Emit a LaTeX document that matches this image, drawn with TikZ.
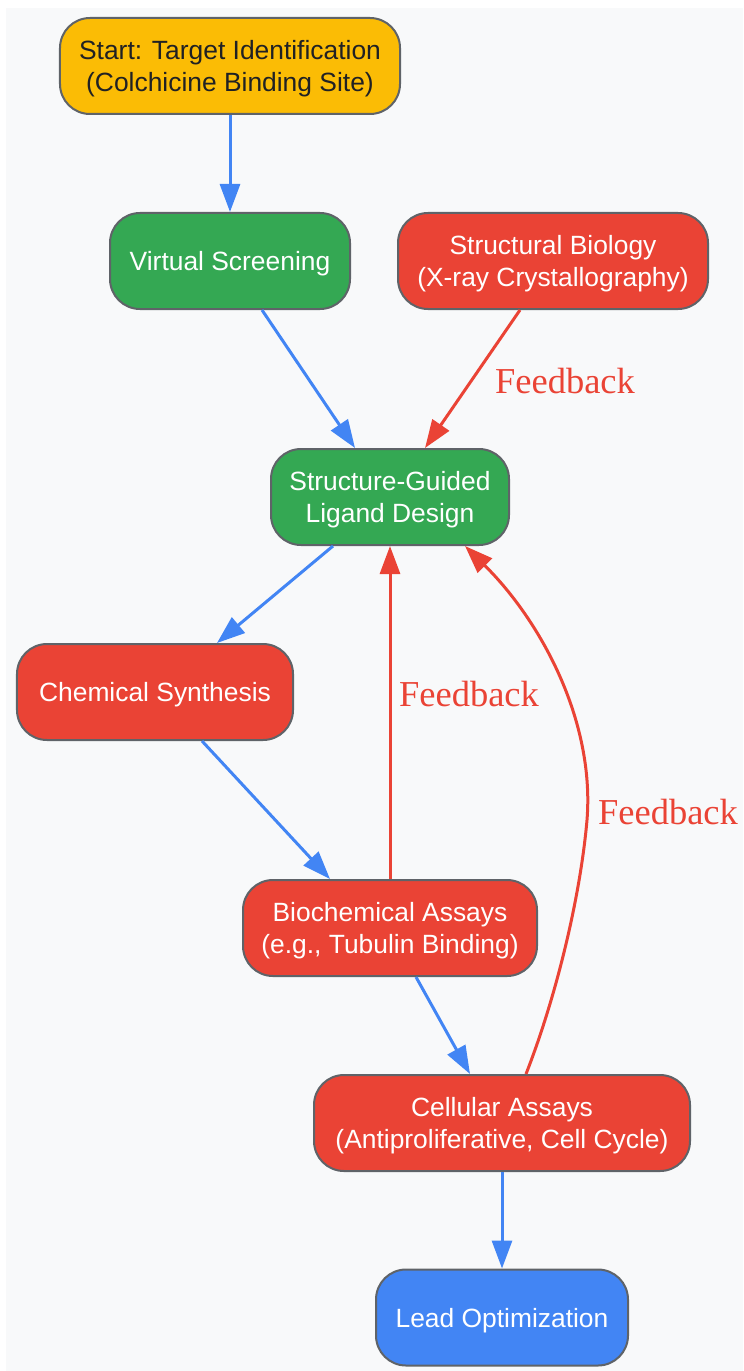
\documentclass[tikz,border=0pt]{standalone}
\usepackage{fontspec}
\setmainfont{Liberation Sans}
\newfontfamily\labelserif{Liberation Serif}
\usetikzlibrary{arrows.meta}
\definecolor{gyellow}{HTML}{FBBC05}
\definecolor{ggreen}{HTML}{34A853}
\definecolor{gred}{HTML}{EA4335}
\definecolor{gblue}{HTML}{4285F4}
\definecolor{gborder}{HTML}{5F6368}
\definecolor{gtext}{HTML}{202124}
\definecolor{gbg}{HTML}{F8F9FA}
\tikzset{
  box/.style={draw=gborder, line width=2bp, rounded corners=30bp, align=center,
    inner sep=0pt, minimum height=96bp, text=white, text depth=0pt,
    font=\fontsize{26.4bp}{32bp}\selectfont},
  flow/.style={draw=gblue, line width=3bp, -{Triangle[length=28bp,width=20bp]}},
  fback/.style={draw=gred, line width=3bp, -{Triangle[length=28bp,width=20bp]}},
  fblabel/.style={text=gred, inner sep=0pt, font=\labelserif\fontsize{36.5bp}{40bp}\selectfont}
}
\begin{document}
\begin{tikzpicture}[x=1bp,y=-1bp]
\useasboundingbox (0,0) rectangle (743,1371);
\fill[gbg] (6,8) rectangle (743,1371);

\node[box, fill=gyellow, text=gtext, minimum width=340bp, minimum height=96bp] (start) at (230,66)
  {Start: Target Identification\\(Colchicine Binding Site)};
\node[box, fill=ggreen, minimum width=240bp] (vs) at (230,261) {Virtual Screening};
\node[box, fill=gred, minimum width=310bp] (sb) at (553,261) {Structural Biology\\(X-ray Crystallography)};
\node[box, fill=ggreen, minimum width=238bp] (sgld) at (390,497) {Structure-Guided\\Ligand Design};
\node[box, fill=gred, minimum width=276bp] (chem) at (155,692) {Chemical Synthesis};
\node[box, fill=gred, minimum width=294bp] (bio) at (390,928) {Biochemical Assays\\(e.g., Tubulin Binding)};
\node[box, fill=gred, minimum width=376bp] (cell) at (502,1123) {Cellular Assays\\(Antiproliferative, Cell Cycle)};
\node[box, fill=gblue, minimum width=252bp] (lead) at (502,1317.5) {Lead Optimization};

\node[fblabel] (fb1) at (565,381) {Feedback};
\node[fblabel] (fb2) at (469,694) {Feedback};
\node[fblabel] (fb3) at (668,812) {Feedback};

\draw[flow] (start.south) -- (vs.north);
\draw[flow] ([xshift=32bp]vs.south) -- ([xshift=-35bp]sgld.north);
\draw[fback] ([xshift=-33bp]sb.south) -- ([xshift=35bp]sgld.north);
\draw[flow] ([xshift=-57bp]sgld.south) -- ([xshift=62bp]chem.north);
\draw[flow] ([xshift=47bp]chem.south) -- ([xshift=-60bp]bio.north);
\draw[fback] (bio.north) -- (sgld.south);
\draw[flow] ([xshift=26bp]bio.south) -- ([xshift=-32bp]cell.north);
\draw[fback] ([xshift=24bp]cell.north) .. controls (555,1000) and (580,900) .. (587,820)
  .. controls (595,720) and (540,620) .. ([xshift=75bp]sgld.south);
\draw[flow] (cell.south) -- (lead.north);
\end{tikzpicture}
\end{document}
